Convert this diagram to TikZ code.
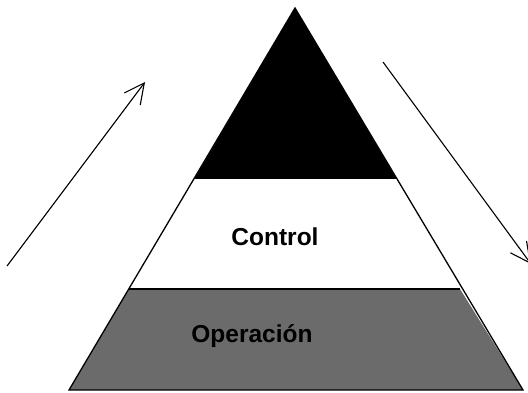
\documentclass[tikz,border=0pt]{standalone}
\usepackage{fontspec}
\setmainfont{Liberation Sans}
\usetikzlibrary{arrows.meta}
\tikzset{
  edge/.style={draw=black, line width=1.3pt},
  flow/.style={draw=black, line width=1.1pt, -{Straight Barb[length=20pt,width=20pt]}},
  lbl/.style={font=\fontsize{24.5}{26}\selectfont\bfseries, inner sep=0pt}
}
\begin{document}
\begin{tikzpicture}[x=1pt,y=-1pt]
\useasboundingbox (0,0) rectangle (528,392);
\clip (0,0) rectangle (528,392);
% corner points
\coordinate (apex) at (295,8);
\coordinate (tl) at (195,178);
\coordinate (tr) at (396,178);
\coordinate (ml) at (129,289);
\coordinate (mr) at (460,289);
\coordinate (bl) at (69,390);
\coordinate (br) at (523,390);
% bands
\fill[black] (apex) -- (tr) -- (tl) -- cycle;
\fill[white] (tl) -- (tr) -- (mr) -- (ml) -- cycle;
\fill[black!58] (ml) -- (mr) -- (br) -- (bl) -- cycle;
% outlines
\draw[edge] (apex) -- (br) -- (bl) -- cycle;
\draw[edge] (tl) -- (tr);
\draw[edge] (ml) -- (mr);
% labels
\node[lbl] (control) at (275,237) {Control};
\node[lbl] (oper) at (252,336) {Operación};
% arrows
\coordinate (a1s) at (7,266);
\coordinate (a1e) at (145,82);
\coordinate (a2s) at (383,62);
\coordinate (a2e) at (531,264);
\draw[flow] (a1s) -- (a1e);
\draw[flow] (a2s) -- (a2e);
\end{tikzpicture}
\end{document}
